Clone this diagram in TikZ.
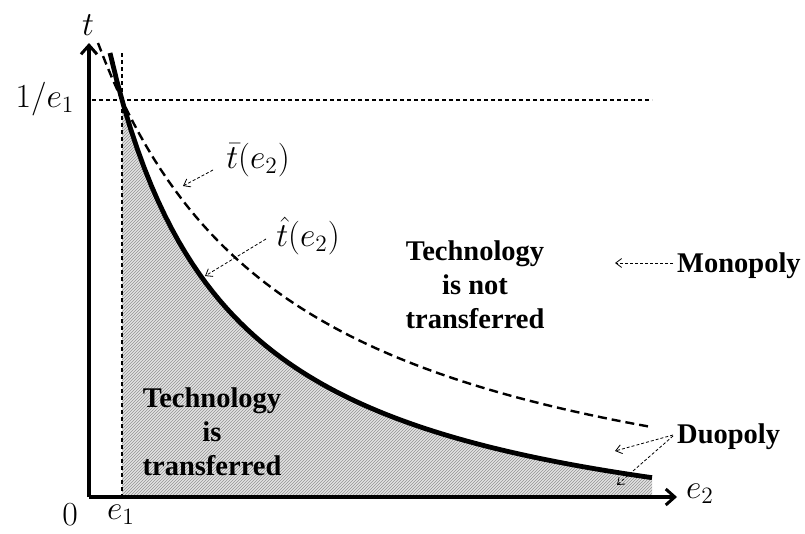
\documentclass[tikz,border=0pt]{standalone}
\usepackage{fontspec}
\setmainfont{Liberation Serif}
\usetikzlibrary{arrows.meta,patterns}
\begin{document}
\begin{tikzpicture}[x=1pt,y=-1pt,
  axis/.style={line width=3.6pt,-{Straight Barb[length=9pt,width=16pt,line width=3pt]}},
  guide/.style={line width=1.1pt,dash pattern=on 4pt off 3pt},
  pointer/.style={line width=0.8pt,dash pattern=on 3pt off 2pt,-{Straight Barb[length=6pt,width=9pt,line width=0.8pt]}},
  region/.style={font=\fontsize{28.5}{34}\selectfont\bfseries,align=center},
  mlab/.style={font=\fontsize{17.28}{20}\selectfont,scale=1.95,transform shape},
  bare/.style={inner sep=0pt}]
\useasboundingbox (0,0) rectangle (805,533);

% threshold curve (y runs downward here)
\def\hatcurve{plot[domain=122:652,samples=80] (\x,{572-(624.93/(\x+10.4))*100})}

% hatched area under the threshold curve
\fill[gray!22] \hatcurve -- (652,497) -- (122,497) -- cycle;
\fill[pattern=north east lines,pattern color=gray!85] \hatcurve -- (652,497) -- (122,497) -- cycle;

% guide lines at e1 and 1/e1
\coordinate (vtop) at (122,53);
\coordinate (vbot) at (122,497);
\coordinate (hl) at (92,100);
\coordinate (hr) at (652,100);
\draw[guide] (vtop) -- (vbot);
\draw[guide] (hl) -- (hr);

% axes
\coordinate (O) at (89,497);
\coordinate (ytip) at (89,43);
\coordinate (xtip) at (677,497);
\draw[axis] (O) -- (ytip);
\draw[axis] (O) -- (xtip);

% curves
\draw[line width=2.4pt,dash pattern=on 9pt off 5pt] plot[domain=98:650,samples=80] (\x,{562-(1009.93/(\x+96.6))*100});
\draw[line width=4.8pt] plot[domain=110:652,samples=80] (\x,{572-(624.93/(\x+10.4))*100});

% axis labels
\node[bare,mlab] (tl) at (88,25) {$t$};
\node[bare,mlab] (e2l) at (700,494) {$e_2$};
\node[bare,mlab] (inv) at (45,99) {$1/e_1$};
\node[bare,mlab] (zero) at (70,515) {$0$};
\node[bare,mlab] (e1l) at (121,515) {$e_1$};

% curve labels
\node[bare,mlab] (tbar) at (258,160) {$\bar t(e_2)$};
\node[bare,mlab] (that) at (308,236) {$\hat t(e_2)$};
\coordinate (tbarA) at (213,170);
\coordinate (tbarB) at (183,186);
\coordinate (thatA) at (266,239);
\coordinate (thatB) at (205,276);
\draw[pointer] (tbarA) -- (tbarB);
\draw[pointer] (thatA) -- (thatB);

% region labels
\node[region] (nt) at (475,285) {Technology\\is not\\transferred};
\node[region] (tt) at (212,432) {Technology\\is\\transferred};

% market structure labels
\node[region,anchor=west,bare] (mono) at (677,266) {Monopoly};
\node[region,anchor=west,bare] (duo) at (677,437) {Duopoly};
\coordinate (monoB) at (615,263);
\coordinate (duoB1) at (615,451);
\coordinate (duoB2) at (617,485);
\draw[pointer] (mono.west) ++(-4,-3) -- (monoB);
\draw[pointer] (duo.west) ++(-4,-2) -- (duoB1);
\draw[pointer] (duo.west) ++(-4,-1) -- (duoB2);
\end{tikzpicture}
\end{document}
